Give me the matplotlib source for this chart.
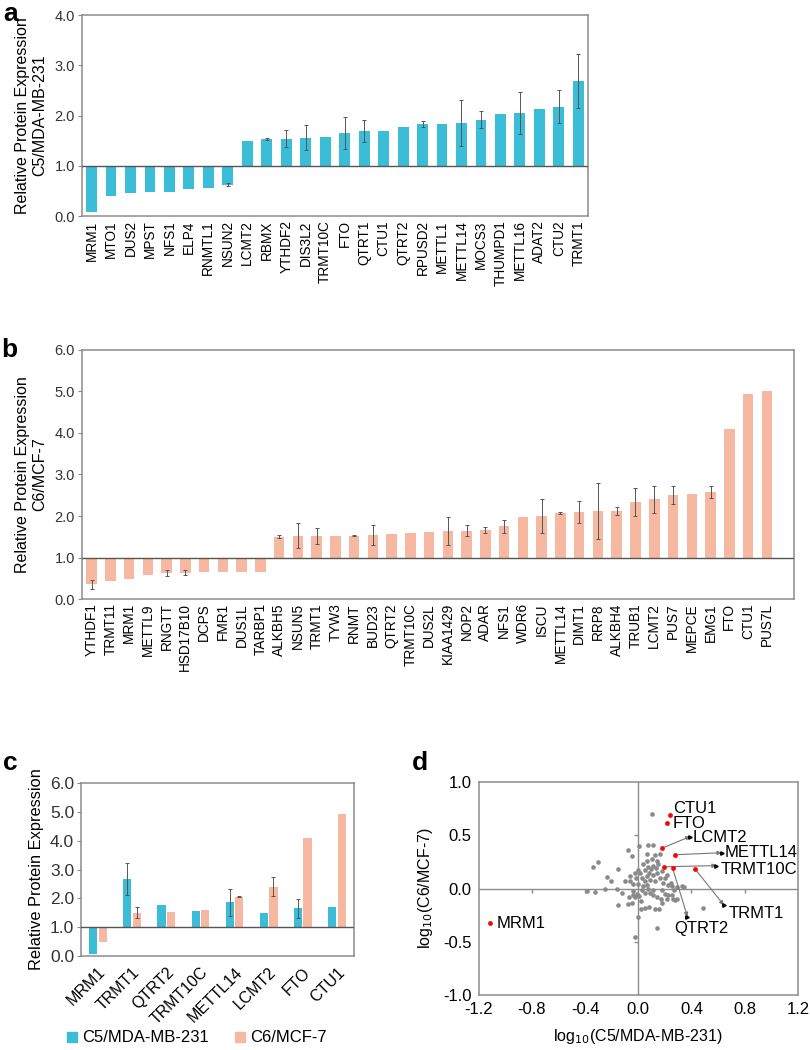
import numpy as np
import matplotlib
matplotlib.use("Agg")
import matplotlib.pyplot as plt
from matplotlib.lines import Line2D

plt.rcParams['font.family'] = ['Liberation Sans', 'DejaVu Sans']

BLUE = '#3bbdd8'
PEACH = '#f6b8a0'
FRAME = '#8c8c8c'
DARK = '#555555'

# ---- panel a : C5/MDA-MB-231
a_genes = ["MRM1", "MTO1", "DUS2", "MPST", "NFS1", "ELP4", "RNMTL1", "NSUN2", "LCMT2", "RBMX",
           "YTHDF2", "DIS3L2", "TRMT10C", "FTO", "QTRT1", "CTU1", "QTRT2", "RPUSD2", "METTL1",
           "METTL14", "MOCS3", "THUMPD1", "METTL16", "ADAT2", "CTU2", "TRMT1"]
a_vals = [0.08, 0.40, 0.46, 0.48, 0.49, 0.55, 0.57, 0.63, 1.49, 1.53,
          1.54, 1.56, 1.57, 1.66, 1.69, 1.70, 1.78, 1.84, 1.84,
          1.86, 1.92, 2.04, 2.06, 2.14, 2.18, 2.69]
a_err = [0, 0, 0, 0, 0, 0, 0, 0.03, 0, 0.02,
         0.17, 0.25, 0, 0.32, 0.22, 0, 0, 0.06, 0,
         0.46, 0.17, 0, 0.42, 0, 0.33, 0.54]

# ---- panel b : C6/MCF-7
b_genes = ["YTHDF1", "TRMT11", "MRM1", "METTL9", "RNGTT", "HSD17B10", "DCPS", "FMR1", "DUS1L",
           "TARBP1", "ALKBH5", "NSUN5", "TRMT1", "TYW3", "RNMT", "BUD23", "QTRT2", "TRMT10C",
           "DUS2L", "KIAA1429", "NOP2", "ADAR", "NFS1", "WDR6", "ISCU", "METTL14", "DIMT1",
           "RRP8", "ALKBH4", "TRUB1", "LCMT2", "PUS7", "MEPCE", "EMG1", "FTO", "CTU1", "PUS7L"]
b_vals = [0.35, 0.43, 0.49, 0.57, 0.63, 0.63, 0.65, 0.65, 0.65,
          0.65, 1.50, 1.52, 1.52, 1.52, 1.53, 1.54, 1.56, 1.60,
          1.61, 1.63, 1.65, 1.67, 1.75, 1.97, 2.00, 2.07, 2.10,
          2.12, 2.12, 2.34, 2.40, 2.51, 2.52, 2.58, 4.10, 4.93, 5.02]
b_err = [0.12, 0, 0, 0, 0.07, 0.06, 0, 0, 0,
         0, 0.04, 0.30, 0.20, 0, 0.01, 0.24, 0, 0,
         0, 0.34, 0.14, 0.07, 0.15, 0, 0.40, 0.02, 0.26,
         0.68, 0.10, 0.33, 0.33, 0.21, 0, 0.14, 0, 0, 0]

# ---- panel c : common hits
c_genes = ["MRM1", "TRMT1", "QTRT2", "TRMT10C", "METTL14", "LCMT2", "FTO", "CTU1"]
c_c5 = [0.08, 2.67, 1.77, 1.57, 1.87, 1.49, 1.66, 1.70]
c_c5_err = [0, 0.54, 0, 0, 0.46, 0, 0.32, 0]
c_c6 = [0.48, 1.51, 1.54, 1.59, 2.06, 2.40, 4.10, 4.93]
c_c6_err = [0, 0.20, 0, 0, 0.02, 0.33, 0, 0]

# ---- panel d : log10 ratios
d_grey_x = [0.100, 0.008, 0.075, 0.113, -0.080, -0.045, 0.068, 0.163, -0.301, -0.338,
            -0.150, -0.238, -0.205, -0.100, -0.018, 0.013, 0.050, 0.075, 0.093, 0.113,
            0.133, 0.150, 0.138, 0.113, 0.083, 0.063, 0.025, 0.050, 0.088, 0.125,
            0.163, 0.200, 0.188, 0.225, 0.250, 0.293, 0.326, 0.343, 0.063, 0.033,
            0.000, -0.038, -0.063, -0.388, -0.326, -0.250, -0.163, -0.038, -0.008, 0.008,
            -0.025, 0.018, 0.050, 0.088, 0.113, 0.143, 0.168, 0.200, 0.213, 0.263,
            0.288, 0.225, -0.150, -0.075, -0.050, 0.018, 0.050, 0.083, 0.125, 0.158,
            -0.005, 0.138, -0.025, 0.488, 0.038, 0.063, 0.105, 0.125, 0.143, 0.000,
            -0.025, -0.063, 0.025, 0.075, 0.113, 0.175, -0.038, -0.068, -0.125, 0.175,
            0.268, 0.243, 0.213, 0.180, 0.250, 0.275]
d_grey_y = [0.699, 0.401, 0.404, 0.411, 0.364, 0.307, 0.326, 0.326, 0.248, 0.201,
            0.185, 0.107, 0.072, 0.066, 0.097, 0.144, 0.176, 0.201, 0.182, 0.213,
            0.194, 0.232, 0.144, 0.129, 0.150, 0.113, 0.097, 0.075, 0.082, 0.075,
            0.097, 0.097, 0.056, 0.034, 0.019, 0.013, 0.019, 0.013, 0.034, 0.019,
            0.044, 0.044, 0.066, -0.019, -0.031, -0.006, -0.006, -0.028, -0.050, -0.075,
            -0.082, -0.113, -0.044, -0.038, -0.063, -0.082, -0.094, -0.050, -0.100, -0.100,
            -0.100, -0.063, -0.154, -0.147, -0.132, -0.188, -0.179, -0.176, -0.194, -0.188,
            -0.263, -0.373, -0.458, -0.185, 0.232, 0.254, 0.276, 0.317, 0.263, 0.176,
            0.144, 0.113, -0.013, -0.006, -0.013, -0.013, -0.060, -0.082, -0.044, -0.138,
            -0.013, 0.056, 0.129, 0.169, -0.060, -0.108]
d_hit_names = ["MRM1", "TRMT1", "QTRT2", "TRMT10C", "METTL14", "LCMT2", "FTO", "CTU1"]
d_hit_x = [-1.115, 0.428, 0.258, 0.195, 0.276, 0.178, 0.215, 0.238]
d_hit_y = [-0.326, 0.182, 0.191, 0.204, 0.317, 0.379, 0.611, 0.693]

fig = plt.figure(figsize=(8.1, 10.5), dpi=100)


def style_frame(ax):
    for s in ax.spines.values():
        s.set_color(FRAME)
        s.set_linewidth(1.1)


def bar_panel(ax, genes, vals, errs, color, ytop, xlim):
    x = np.arange(len(genes))
    vals = np.array(vals)
    errs = np.array(errs)
    ax.bar(x, vals - 1, bottom=1, width=0.56, color=color, zorder=2)
    m = errs > 0
    ax.errorbar(x[m], vals[m], yerr=errs[m], fmt='none', ecolor=DARK, elinewidth=0.7,
                capsize=1.5, capthick=0.7, zorder=3)
    ax.axhline(1, color=DARK, lw=1, zorder=4)
    ax.set_xlim(*xlim)
    ax.set_ylim(0, ytop)
    ticks = np.arange(0, ytop + 0.1, 1.0)
    ax.set_yticks(ticks)
    ax.set_yticklabels([f"{v:.1f}" for v in ticks], fontsize=10.5, color='#333333')
    ax.set_xticks(x)
    ax.set_xticklabels(genes, rotation=90, fontsize=9.8)
    ax.tick_params(axis='x', length=0, pad=3)
    ax.tick_params(axis='y', length=3, color=FRAME, pad=2)
    style_frame(ax)


# a
ax_a = fig.add_axes([0.101, 0.794, 0.625, 0.1917])
bar_panel(ax_a, a_genes, a_vals, a_err, BLUE, 4, (-0.5, len(a_genes) - 0.5))
ax_a.set_ylabel("Relative Protein Expression\nC5/MDA-MB-231", fontsize=11.5, labelpad=5)

# b
ax_b = fig.add_axes([0.101, 0.4295, 0.879, 0.2372])
bar_panel(ax_b, b_genes, b_vals, b_err, PEACH, 6, (-0.52, len(b_genes) + 0.44))
ax_b.set_ylabel("Relative Protein Expression\nC6/MCF-7", fontsize=11.5, labelpad=5)

# c
ax_c = fig.add_axes([0.100, 0.0892, 0.337, 0.1654])
xc = np.arange(len(c_genes))
c5 = np.array(c_c5)
c6 = np.array(c_c6)
e5 = np.array(c_c5_err)
e6 = np.array(c_c6_err)
ax_c.bar(xc - 0.14, c5 - 1, bottom=1, width=0.24, color=BLUE, zorder=2)
ax_c.bar(xc + 0.14, c6 - 1, bottom=1, width=0.24, color=PEACH, zorder=2)
m5 = e5 > 0
m6 = e6 > 0
ax_c.errorbar(xc[m5] - 0.14, c5[m5], yerr=e5[m5], fmt='none', ecolor=DARK, elinewidth=0.7,
              capsize=1.5, capthick=0.7, zorder=3)
ax_c.errorbar(xc[m6] + 0.14, c6[m6], yerr=e6[m6], fmt='none', ecolor=DARK, elinewidth=0.7,
              capsize=1.5, capthick=0.7, zorder=3)
ax_c.axhline(1, color=DARK, lw=1, zorder=4)
ax_c.set_xlim(-0.5, len(c_genes) - 0.5)
ax_c.set_ylim(0, 6)
ct = np.arange(0, 6.1, 1.0)
ax_c.set_yticks(ct)
ax_c.set_yticklabels([f"{v:.1f}" for v in ct], fontsize=12.5, color='#333333')
ax_c.set_xticks(xc)
ax_c.set_xticklabels(c_genes, rotation=45, ha='right', rotation_mode='anchor', fontsize=11.5)
ax_c.tick_params(axis='x', length=0, pad=6)
ax_c.tick_params(axis='y', length=3, color=FRAME, pad=2)
ax_c.set_ylabel("Relative Protein Expression", fontsize=11.8, labelpad=4)
style_frame(ax_c)
handles = [Line2D([], [], marker='s', ls='none', color=BLUE, markersize=7),
           Line2D([], [], marker='s', ls='none', color=PEACH, markersize=7)]
fig.legend(handles, ["C5/MDA-MB-231", "C6/MCF-7"], loc='center left',
           bbox_to_anchor=(0.068, 0.0115), ncol=2, frameon=False, fontsize=12,
           handletextpad=0.1, columnspacing=1.4, handlelength=1.0, borderpad=0)

# d
ax_d = fig.add_axes([0.591, 0.0524, 0.394, 0.2028])
ax_d.axhline(0, color=FRAME, lw=1, zorder=1)
ax_d.axvline(0, color=FRAME, lw=1, zorder=1)
ax_d.scatter(d_grey_x, d_grey_y, s=11, color='#8a8a8a', linewidths=0, zorder=2)
ax_d.scatter(d_hit_x, d_hit_y, s=12, color='#ff0000', linewidths=0, zorder=3)
ax_d.set_xlim(-1.2, 1.2)
ax_d.set_ylim(-1.0, 1.0)
xt = np.arange(-1.2, 1.21, 0.4)
yt = np.arange(-1.0, 1.01, 0.5)
ax_d.set_xticks(xt)
ax_d.set_xticklabels([f"{v:.1f}" if abs(v) > 1e-9 else "0.0" for v in xt], fontsize=12)
ax_d.set_yticks(yt)
ax_d.set_yticklabels([f"{v:.1f}" if abs(v) > 1e-9 else "0.0" for v in yt], fontsize=12)
ax_d.tick_params(length=0, pad=5)
# small ticks on the crossing axes
inner_x = [v for v in xt[1:-1] if abs(v) > 1e-9]
inner_y = [v for v in yt[1:-1] if abs(v) > 1e-9]
ax_d.plot(inner_x, [0] * len(inner_x), ls='none', marker=3, markersize=3, color=FRAME, mew=1)
ax_d.plot([0] * len(inner_y), inner_y, ls='none', marker=0, markersize=3, color=FRAME, mew=1)
ax_d.set_xlabel("log$_{10}$(C5/MDA-MB-231)", fontsize=11.5, labelpad=7)
ax_d.set_ylabel("log$_{10}$(C6/MCF-7)", fontsize=11.5, labelpad=6)
style_frame(ax_d)

# labels: name -> (text x, text y, arrow end or None)
label_pos = {
    "CTU1": (0.262, 0.749, None),
    "FTO": (0.262, 0.608, None),
    "LCMT2": (0.41, 0.48, (0.39, 0.488)),
    "METTL14": (0.65, 0.339, (0.626, 0.336)),
    "TRMT10C": (0.62, 0.176, (0.588, 0.215)),
    "TRMT1": (0.676, -0.238, (0.643, -0.155)),
    "QTRT2": (0.268, -0.373, (0.37, -0.265)),
    "MRM1": (-1.065, -0.326, None),
}
for name, hx, hy in zip(d_hit_names, d_hit_x, d_hit_y):
    tx, ty, end = label_pos[name]
    if end is not None:
        ax_d.annotate('', xy=end, xytext=(hx, hy),
                      arrowprops=dict(arrowstyle='-|>', color='#777777', lw=0.8,
                                      mutation_scale=6, shrinkA=2, shrinkB=0), zorder=2)
        ax_d.plot([end[0]], [end[1]], marker='>', markersize=2.5, color='black', zorder=4)
    ax_d.text(tx, ty, name, fontsize=12, ha='left', va='center', zorder=4)

# panel letters
for letter, (x, y) in {"a": (0.004, 0.998), "b": (0.002, 0.678), "c": (0.004, 0.285), "d": (0.508, 0.285)}.items():
    fig.text(x, y, letter, fontsize=19, fontweight='bold', va='top', ha='left')

fig.savefig("out.png", dpi=100)
